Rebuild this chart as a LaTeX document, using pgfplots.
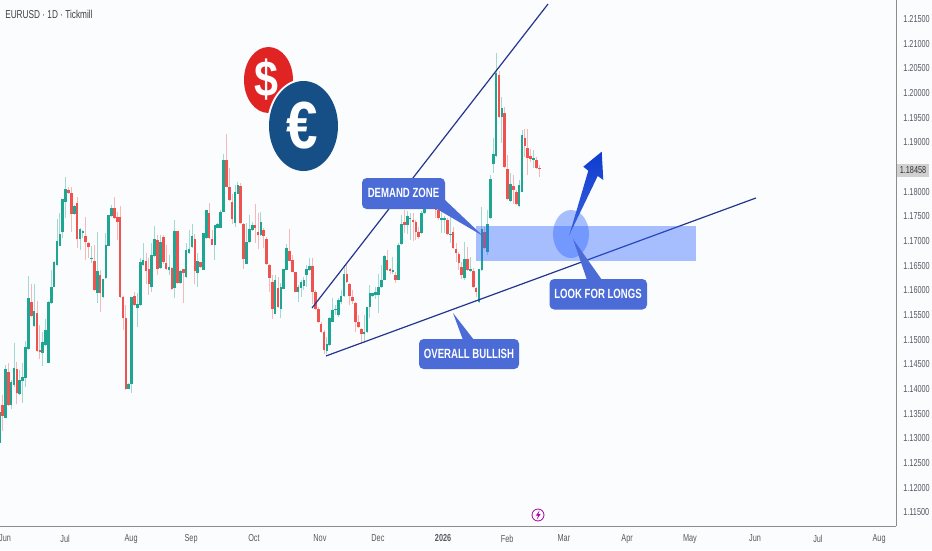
\documentclass[border=0pt]{standalone}
\usepackage{pgfplots}
\usepackage{pgfplotstable}
\pgfplotsset{compat=1.18}
\usepackage{fontspec}
\setmainfont[FakeStretch=0.72]{Liberation Sans}
\newfontfamily\coinfont[FakeStretch=0.85]{Liberation Sans}
\definecolor{bg}{HTML}{FBFCFE}
\definecolor{upc}{HTML}{1FA692}
\definecolor{dnc}{HTML}{EF5350}
\definecolor{navy}{HTML}{24358F}
\definecolor{call}{HTML}{4B6BD6}
\definecolor{zone}{HTML}{2962FF}
\definecolor{txt}{HTML}{555862}
\definecolor{coinblue}{HTML}{154F85}
\definecolor{coinred}{HTML}{E02424}
\definecolor{arrowtop}{HTML}{0E3CCD}
\definecolor{arrowbot}{HTML}{3A62E0}
\pgfplotstableread{
x o h l c
-1 1.1290 1.1384 1.1287 1.1354
1 1.1341 1.1448 1.1341 1.1441
3 1.1367 1.1418 1.1359 1.1414
4 1.1408 1.1493 1.1405 1.1443
6 1.1389 1.1439 1.1387 1.1418
7 1.1417 1.1452 1.1372 1.1424
8 1.1422 1.1498 1.1405 1.1485
9 1.1482 1.1630 1.1480 1.1584
11 1.1528 1.1613 1.1526 1.1558
14 1.1474 1.1516 1.1447 1.1496
15 1.1489 1.1541 1.1487 1.1520
16 1.1453 1.1578 1.1452 1.1577
17 1.1574 1.1641 1.1572 1.1607
18 1.1607 1.1660 1.1606 1.1658
19 1.1651 1.1744 1.1650 1.1701
20 1.1690 1.1756 1.1689 1.1714
21 1.1719 1.1786 1.1707 1.1786
22 1.1780 1.1829 1.1746 1.1805
25 1.1755 1.1773 1.1753 1.1771
27 1.1705 1.1726 1.1682 1.1724
28 1.1716 1.1722 1.1707 1.1720
31 1.1663 1.1689 1.1655 1.1666
33 1.1595 1.1719 1.1574 1.1640
35 1.1586 1.1624 1.1585 1.1624
36 1.1626 1.1716 1.1624 1.1691
37 1.1690 1.1753 1.1689 1.1753
38 1.1751 1.1773 1.1749 1.1766
44 1.1401 1.1412 1.1400 1.1410
45 1.1410 1.1586 1.1391 1.1586
47 1.1564 1.1594 1.1526 1.1572
48 1.1570 1.1665 1.1569 1.1658
49 1.1651 1.1697 1.1650 1.1662
52 1.1606 1.1695 1.1597 1.1672
53 1.1670 1.1730 1.1668 1.1705
55 1.1646 1.1712 1.1644 1.1698
58 1.1641 1.1671 1.1631 1.1648
60 1.1604 1.1742 1.1584 1.1721
62 1.1614 1.1641 1.1613 1.1640
64 1.1627 1.1695 1.1626 1.1682
65 1.1675 1.1722 1.1674 1.1683
66 1.1687 1.1734 1.1685 1.1710
68 1.1636 1.1675 1.1607 1.1660
70 1.1642 1.1717 1.1641 1.1717
71 1.1707 1.1763 1.1705 1.1763
74 1.1692 1.1732 1.1661 1.1732
75 1.1727 1.1736 1.1726 1.1734
76 1.1727 1.1763 1.1727 1.1758
77 1.1759 1.1877 1.1759 1.1864
81 1.1736 1.1813 1.1729 1.1800
82 1.1796 1.1820 1.1795 1.1813
85 1.1654 1.1736 1.1653 1.1698
86 1.1698 1.1752 1.1697 1.1725
87 1.1722 1.1739 1.1721 1.1732
90 1.1712 1.1759 1.1710 1.1739
95 1.1552 1.1631 1.1552 1.1622
97 1.1563 1.1614 1.1543 1.1606
98 1.1603 1.1644 1.1603 1.1644
99 1.1642 1.1694 1.1641 1.1685
103 1.1597 1.1611 1.1577 1.1607
104 1.1605 1.1622 1.1587 1.1616
105 1.1609 1.1628 1.1600 1.1622
106 1.1632 1.1651 1.1607 1.1643
107 1.1641 1.1665 1.1640 1.1649
113 1.1477 1.1506 1.1472 1.1491
114 1.1489 1.1547 1.1488 1.1543
115 1.1536 1.1585 1.1535 1.1561
116 1.1560 1.1570 1.1550 1.1563
117 1.1550 1.1584 1.1547 1.1580
118 1.1577 1.1600 1.1573 1.1588
119 1.1588 1.1651 1.1587 1.1633
126 1.1511 1.1550 1.1494 1.1516
127 1.1516 1.1567 1.1513 1.1567
128 1.1567 1.1611 1.1543 1.1594
129 1.1588 1.1595 1.1587 1.1594
130 1.1590 1.1607 1.1583 1.1597
131 1.1590 1.1634 1.1555 1.1606
132 1.1606 1.1651 1.1604 1.1622
133 1.1621 1.1672 1.1620 1.1670
136 1.1638 1.1668 1.1634 1.1641
138 1.1620 1.1695 1.1620 1.1692
139 1.1693 1.1752 1.1692 1.1735
141 1.1733 1.1760 1.1715 1.1751
142 1.1744 1.1756 1.1702 1.1747
146 1.1716 1.1760 1.1714 1.1756
147 1.1756 1.1790 1.1755 1.1787
153 1.1743 1.1760 1.1717 1.1746
154 1.1742 1.1750 1.1717 1.1746
156 1.1713 1.1756 1.1695 1.1715
161 1.1626 1.1698 1.1621 1.1664
163 1.1639 1.1668 1.1638 1.1643
166 1.1577 1.1644 1.1575 1.1644
167 1.1641 1.1769 1.1640 1.1725
169 1.1678 1.1762 1.1671 1.1735
170 1.1746 1.1833 1.1744 1.1825
171 1.1856 1.1908 1.1837 1.1877
172 1.1872 1.2081 1.1871 1.2041
174 1.1951 1.1992 1.1898 1.1969
177 1.1782 1.1837 1.1780 1.1816
180 1.1771 1.1823 1.1768 1.1813
181 1.1800 1.1926 1.1799 1.1915
185 1.1865 1.1884 1.1847 1.1869
}\uptable
\pgfplotstableread{
x o h l c
0 1.1368 1.1388 1.1314 1.1345
2 1.1435 1.1452 1.1366 1.1368
5 1.1441 1.1455 1.1370 1.1391
10 1.1577 1.1613 1.1547 1.1548
12 1.1555 1.1579 1.1476 1.1478
13 1.1480 1.1530 1.1460 1.1476
23 1.1803 1.1809 1.1797 1.1798
24 1.1797 1.1809 1.1719 1.1755
26 1.1778 1.1789 1.1685 1.1705
29 1.1710 1.1748 1.1662 1.1699
30 1.1697 1.1699 1.1665 1.1687
32 1.1660 1.1692 1.1599 1.1601
34 1.1632 1.1641 1.1557 1.1594
39 1.1766 1.1789 1.1745 1.1746
40 1.1748 1.1759 1.1703 1.1739
41 1.1749 1.1770 1.1586 1.1587
42 1.1587 1.1589 1.1520 1.1543
43 1.1545 1.1570 1.1400 1.1401
46 1.1589 1.1596 1.1569 1.1570
50 1.1660 1.1675 1.1613 1.1640
51 1.1644 1.1665 1.1591 1.1613
54 1.1703 1.1712 1.1631 1.1644
56 1.1709 1.1712 1.1654 1.1658
57 1.1656 1.1692 1.1642 1.1644
59 1.1646 1.1648 1.1600 1.1602
61 1.1721 1.1721 1.1613 1.1614
63 1.1643 1.1644 1.1575 1.1636
67 1.1705 1.1715 1.1613 1.1640
69 1.1657 1.1658 1.1646 1.1648
72 1.1757 1.1777 1.1705 1.1707
73 1.1705 1.1722 1.1692 1.1692
78 1.1864 1.1917 1.1810 1.1810
79 1.1810 1.1847 1.1783 1.1784
80 1.1779 1.1796 1.1734 1.1744
83 1.1811 1.1817 1.1734 1.1736
84 1.1735 1.1736 1.1644 1.1663
88 1.1732 1.1776 1.1695 1.1727
89 1.1719 1.1756 1.1683 1.1712
91 1.1722 1.1727 1.1685 1.1710
92 1.1705 1.1709 1.1653 1.1654
93 1.1652 1.1654 1.1597 1.1626
94 1.1617 1.1631 1.1541 1.1563
96 1.1604 1.1628 1.1566 1.1567
100 1.1680 1.1725 1.1660 1.1660
101 1.1661 1.1671 1.1638 1.1638
102 1.1637 1.1638 1.1597 1.1597
108 1.1649 1.1665 1.1573 1.1597
109 1.1597 1.1600 1.1560 1.1563
110 1.1563 1.1567 1.1533 1.1536
111 1.1531 1.1536 1.1514 1.1516
112 1.1516 1.1519 1.1472 1.1479
120 1.1633 1.1651 1.1615 1.1617
121 1.1612 1.1614 1.1570 1.1588
122 1.1587 1.1600 1.1573 1.1578
123 1.1575 1.1577 1.1516 1.1536
124 1.1536 1.1550 1.1523 1.1525
125 1.1521 1.1523 1.1492 1.1511
134 1.1661 1.1682 1.1640 1.1641
135 1.1643 1.1645 1.1634 1.1640
137 1.1631 1.1638 1.1614 1.1622
140 1.1739 1.1763 1.1717 1.1733
143 1.1743 1.1756 1.1700 1.1739
144 1.1738 1.1743 1.1703 1.1719
145 1.1719 1.1729 1.1705 1.1709
148 1.1785 1.1787 1.1772 1.1773
149 1.1776 1.1780 1.1768 1.1770
150 1.1773 1.1776 1.1764 1.1766
151 1.1770 1.1771 1.1746 1.1763
152 1.1763 1.1764 1.1743 1.1746
155 1.1742 1.1746 1.1714 1.1715
157 1.1719 1.1729 1.1684 1.1685
158 1.1683 1.1695 1.1658 1.1675
159 1.1673 1.1678 1.1641 1.1656
160 1.1648 1.1658 1.1624 1.1631
162 1.1664 1.1688 1.1639 1.1641
164 1.1639 1.1645 1.1604 1.1607
165 1.1604 1.1607 1.1587 1.1597
168 1.1719 1.1729 1.1684 1.1685
173 1.2036 1.2045 1.1951 1.1952
175 1.1960 1.1972 1.1849 1.1851
176 1.1845 1.1874 1.1784 1.1786
178 1.1811 1.1834 1.1776 1.1803
179 1.1800 1.1803 1.1775 1.1776
182 1.1908 1.1928 1.1871 1.1892
183 1.1889 1.1928 1.1834 1.1869
184 1.1872 1.1887 1.1860 1.1867
186 1.1865 1.1871 1.1847 1.1849
187 1.1849 1.1854 1.1830 1.18458
}\downtable
\pgfplotsset{
 wick/.style={draw=none,mark=none,forget plot,error bars/.cd,y dir=both,y explicit,error mark=none,
   error bar style={draw=#1,draw opacity=.4,line width=.65pt}},
 body/.style={draw=none,mark=none,forget plot,error bars/.cd,y dir=plus,y explicit,error mark=none,
   error bar style={draw=#1,line width=1.95pt}}
}
\begin{document}
\begin{tikzpicture}
\path[use as bounding box,fill=bg] (0,0) rectangle (699pt,-412.5pt);
\begin{axis}[
  at={(0pt,-394.5pt)},anchor=south west,
  scale only axis,width=672pt,height=394.5pt,
  xmin=-0.87,xmax=311.3,ymin=1.11224,ymax=1.21885,
  axis x line=bottom,axis y line=right,
  axis line style={draw=black!45,line width=.6pt,-},
  tick style={draw=none},major tick length=0pt,
  xtick={0.9,21.8,44.8,65.7,87.6,110.6,130.8,153.5,175.8,195.6,217.6,239.5,262.2,284.1,305.4},
  xticklabels={Jun,Jul,Aug,Sep,Oct,Nov,Dec,\textbf{2026},Feb,Mar,Apr,May,Jun,Jul,Aug},
  ytick={1.115,1.12,1.125,1.13,1.135,1.14,1.145,1.15,1.155,1.16,1.165,1.17,1.175,1.18,1.19,1.195,1.2,1.205,1.21,1.215},
  scaled y ticks=false,
  yticklabel style={/pgf/number format/fixed,/pgf/number format/fixed zerofill,/pgf/number format/precision=5,/pgf/number format/assume math mode=true,
     font=\fontsize{7.6}{8}\selectfont,text=txt,anchor=west,xshift=2pt},
  xticklabel style={font=\fontsize{7.6}{8}\selectfont,text=txt,yshift=-3pt},
]
\addplot[wick=upc] table[x=x,y=c,y error plus expr=\thisrow{h}-\thisrow{c},y error minus expr=\thisrow{c}-\thisrow{l}] {\uptable};
\addplot[wick=dnc] table[x=x,y=c,y error plus expr=\thisrow{h}-\thisrow{c},y error minus expr=\thisrow{c}-\thisrow{l}] {\downtable};
\addplot[body=upc] table[x=x,y=o,y error plus expr=\thisrow{c}-\thisrow{o}] {\uptable};
\addplot[body=dnc] table[x=x,y=c,y error plus expr=\thisrow{o}-\thisrow{c}] {\downtable};
\addplot[navy,line width=.9pt,forget plot] coordinates {(107.84,1.15643) (190.07,1.21804)};
\addplot[navy,line width=.9pt,forget plot] coordinates {(112.7,1.14670) (262.5,1.17872)};
\end{axis}
\begin{scope}[x=.75pt,y=-.75pt]
% zone and circle
\fill[zone,opacity=.4] (476,226) rectangle (696,260.5);
\fill[zone,opacity=.4] (571,234) ellipse [x radius=18,y radius=24];
% coins
\fill[coinred] (268.5,80) ellipse [x radius=24.5,y radius=33];
\node[text=white,font=\coinfont\bfseries\fontsize{38}{38}\selectfont,inner sep=0] at (266,80) {\$};
\fill[bg] (303.5,126) ellipse [x radius=36.5,y radius=47];
\fill[coinblue] (303.5,126) ellipse [x radius=34.5,y radius=45];
\node[text=white,font=\coinfont\bfseries\fontsize{50}{50}\selectfont,inner sep=0] at (302,126) {€};
% callouts
\fill[call,rounded corners=3.5pt] (362,178) rectangle (445,209);
\fill[call] (444,199) -- (483,236) -- (437,209) -- cycle;
\node[text=white,font=\bfseries\fontsize{10}{10}\selectfont,inner sep=0] at (403.5,193) {DEMAND ZONE};
\fill[call,rounded corners=3.5pt] (549.5,279) rectangle (647,309.5);
\fill[call] (587,280) -- (573,239) -- (602,280) -- cycle;
\node[text=white,font=\bfseries\fontsize{10}{10}\selectfont,inner sep=0] at (598,294) {LOOK FOR LONGS};
\fill[call,rounded corners=3.5pt] (419,339) rectangle (519,369);
\fill[call] (463,340) -- (453,313) -- (474,340) -- cycle;
\node[text=white,font=\bfseries\fontsize{10}{10}\selectfont,inner sep=0] at (469,353.5) {OVERALL BULLISH};
% arrow
\shade[top color=arrowtop,bottom color=arrowbot]
  (569.3,235) -- (588.3,170.7) -- (583.3,166.7) -- (601.7,151.7) -- (603.3,180) -- (597.7,176) -- cycle;
% labels
\node[anchor=west,text=black!75,font=\fontsize{8.6}{9}\selectfont,inner sep=0] at (5,14) {EURUSD · 1D · Tickmill};
\fill[black!18] (897,163.5) rectangle (929,176.5);
\node[text=black!80,font=\fontsize{7.6}{8}\selectfont,inner sep=0] at (913,170) {1.18458};
% bolt
\draw[violet!70!magenta,line width=.6pt] (538,515) circle [radius=6];
\fill[violet!70!magenta] (539.5,510.5) -- (535.8,515.7) -- (538,515.7) -- (536.8,519.5) -- (540.5,514.2) -- (538.3,514.2) -- cycle;
\end{scope}
\end{tikzpicture}
\end{document}
